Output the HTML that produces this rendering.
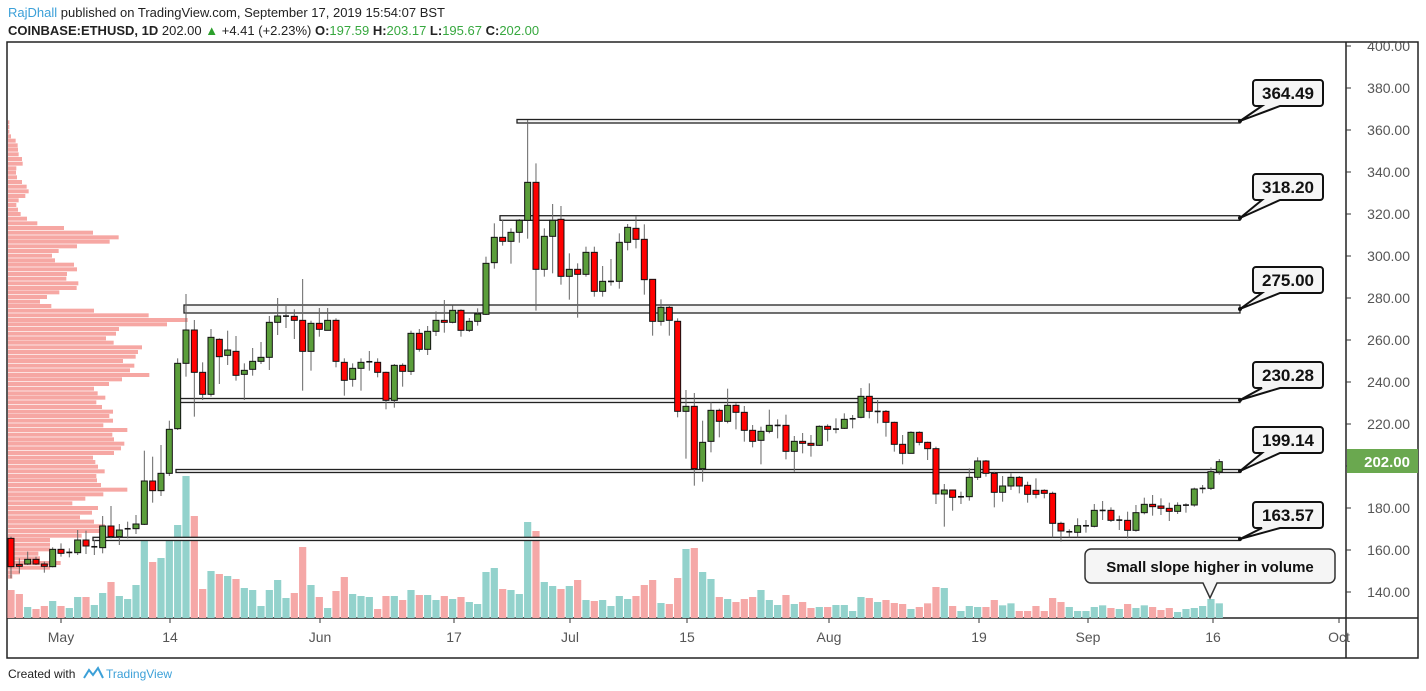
<!DOCTYPE html>
<html><head><meta charset="utf-8"><style>
body{margin:0;width:1426px;height:691px;background:#fff;overflow:hidden;font-family:"Liberation Sans",sans-serif;}
svg{position:absolute;left:0;top:0}
</style></head><body>
<svg id="s" width="1426" height="691" xmlns="http://www.w3.org/2000/svg">
<text x="8" y="17" font-size="13" fill="#222"><tspan fill="#3ca0d8">RajDhall</tspan> published on TradingView.com, September 17, 2019 15:54:07 BST</text>
<text x="8" y="35" font-size="13" fill="#222"><tspan font-weight="bold">COINBASE:ETHUSD, 1D</tspan> 202.00 <tspan fill="#2ca02c">▲</tspan> +4.41 (+2.23%) <tspan font-weight="bold">O:</tspan><tspan fill="#37a83f">197.59</tspan> <tspan font-weight="bold">H:</tspan><tspan fill="#37a83f">203.17</tspan> <tspan font-weight="bold">L:</tspan><tspan fill="#37a83f">195.67</tspan> <tspan font-weight="bold">C:</tspan><tspan fill="#37a83f">202.00</tspan></text>
<rect x="7" y="42" width="1411" height="616" fill="none" stroke="#222" stroke-width="1.5"/>
<line x1="1346" y1="42" x2="1346" y2="658" stroke="#222" stroke-width="1.5"/>
<line x1="7" y1="618" x2="1418" y2="618" stroke="#222" stroke-width="1.5"/>
<g id="g"></g>
<text x="8" y="678" font-size="12" fill="#222">Created with</text>
<path d="M84 678 l5 -8 l4 5 l5 -7 l5 10" fill="none" stroke="#3ca0d8" stroke-width="2"/>
<text x="106" y="678" font-size="12" fill="#3ca0d8">TradingView</text>
</svg>
<script>
var g=document.getElementById('g');var h='';
function X(n){return 61+8.333*(n-7);}
// volume profile
var vp=[[37,28],[51,28],[65,28],[79,33],[92,47],[106,53],[119,54],[133,56],[147,66],[161,68],[175,49],[188,48],[202,51],[216,66],[230,80],[244,86],[258,76],[271,56],[285,49],[299,54],[312,62],[326,81],[340,112],[354,192],[368,279],[382,356],[395,329],[409,231],[423,176],[437,156],[451,165],[464,222],[478,231],[492,201],[506,199],[520,235],[534,230],[547,178],[561,141],[575,120],[588,154],[602,282],[616,446],[630,563],[643,501],[657,357],[671,348],[685,318],[698,341],[712,426],[726,414],[740,407],[753,369],[767,403],[781,390],[795,448],[808,366],[822,327],[836,282],[850,293],[863,316],[877,289],[891,306],[905,339],[918,328],[932,339],[946,310],[960,382],[974,337],[988,342],[1001,373],[1015,363],[1029,342],[1043,279],[1056,286],[1070,294],[1084,314],[1098,289],[1111,291],[1125,303],[1139,382],[1153,310],[1166,256],[1180,217],[1194,294],[1208,276],[1222,240],[1235,282],[1249,315],[1263,309],[1277,245],[1290,150],[1304,150],[1318,150],[1331,115],[1345,120],[1359,182],[1373,150],[1387,60],[1400,37]];
vp.forEach(function(r){var y=110+r[0]/3;h+='<rect x="8" y="'+(y-2)+'" width="'+((r[1]-24)/3)+'" height="4" fill="#f6a7a3"/>';});
// candles
var A=[[1285,1370,1280,1405],[1363,1369,1345,1390],[1362,1348,1325,1365],[1348,1362,1340,1365],[1362,1369,1355,1388],[1370,1318,1312,1372],[1318,1330,1300,1340],[1329,1327,1315,1342],[1328,1290,1260,1335],[1290,1308,1262,1332],[1310,1310,1290,1335],[1313,1248,1218,1330],[1248,1280,1188,1285],[1280,1260,1242,1305],[1256,1256,1235,1285],[1256,1242,1215,1272],[1243,1113,1022,1245],[1113,1142,1040,1178],[1142,1090,1005,1158],[1090,958,932,1098],[956,760,745,960],[760,660,552,800],[660,787,630,920],[787,853,757,870],[853,682,657,860],[688,740,685,822],[736,720,662,765],[724,796,678,812],[793,781,760,870],[778,754,714,797],[754,742,696,762],[742,637,618,780],[637,618,564,675],[618,618,588,654],[619,631,598,687],[631,724,507,842],[724,640,632,782],[640,658,594,680],[661,631,594,661],[631,754,625,772],[757,811,745,857],[808,775,760,830],[775,757,745,842],[755,755,723,782],[757,787,745,802],[787,871,785,898],[871,766,762,893],[766,784,760,830],[784,670,662,795],[670,718,657,725],[718,664,648,735],[664,631,604,678],[631,637,570,668],[637,601,587,640],[601,661,598,680],[661,634,624,666],[634,612,595,647],
[613,460,440,615],[458,382,340,476],[382,394,330,407],[394,367,355,461],[367,331,327,398],[331,217,30,386],[217,478,160,602],[478,379,355,500],[379,331,282,490],[328,499,288,524],[499,478,430,569],[478,493,460,623],[493,427,410,500],[427,544,410,560],[544,514,468,560],[514,514,447,527],[514,397,370,536],[397,352,342,421],[355,388,318,415],[388,509,343,554],[508,634,508,677],[634,592,568,647],[592,631,588,677],[634,904,625,922],[904,889,840,1046],[889,1076,849,1127],[1076,997,932,1115],[994,901,877,1027],[901,934,896,982],[934,886,836,940],[886,907,880,958],[907,961,888,995],[961,994,945,1012],[991,964,950,1063],[964,946,899,970],[946,946,928,985],[946,1024,914,1048],[1024,994,978,1085],[994,1000,969,1030],[1000,1006,975,1040],[1006,949,946,1008],[949,958,943,994],[957,957,925,970],[955,928,910,957],[928,926,915,955],[922,859,834,925],[859,904,820,925],[904,904,870,940],[904,937,900,980],[937,1003,935,1025],[1003,1030,975,1063],[1030,967,964,1030],[967,997,964,1006]];
var B=[[277,296,275,330],[296,432,290,462],[432,420,402,530],[420,442,420,482],[440,440,425,462],[440,382,355,452],[382,333,322,390],[333,370,330,380],[370,427,365,472],[427,408,378,455],[408,382,370,420],[382,408,378,430],[406,433,395,458],[421,433,385,445],[421,430,418,445],[430,520,425,562],[520,543,515,575],[545,545,538,562],[547,527,505,562],[527,527,510,548],[529,481,462,532],[481,481,453,510],[481,511,472,516],[510,510,497,540],[511,541,485,565],[541,488,465,545],[488,463,443,493],[463,470,435,497],[468,475,445,495],[475,484,458,513],[484,466,457,492],[465,465,460,488],[465,417,413,470],[415,415,405,430],[415,365,352,420],[366,335,327,374]];
var VA=[1440,1452,1491,1497,1488,1473,1488,1494,1461,1461,1485,1449,1416,1458,1467,1425,1287,1356,1344,1293,1245,1098,1218,1437,1383,1392,1398,1407,1434,1440,1488,1440,1410,1464,1449,1311,1425,1461,1494,1443,1401,1452,1458,1461,1497,1458,1458,1470,1440,1455,1455,1470,1458,1467,1461,1476,1482,1386,1374,1437,1440,1452,1236,1263,1416,1428,1437,1428,1410,1470,1473,1470,1488,1458,1467,1458,1425,1410,1479,1482,1404,1317,1314,1386,1407,1461,1467,1476,1467,1461,1440,1470,1485,1455,1482,1476,1494,1491,1491,1485,1485,1503,1461,1464,1476,1470,1479,1482,1497,1491];
var VB=[760,711,714,768,783,768,771,771,750,766,760,783,783,768,783,744,756,771,783,783,771,766,774,777,762,774,766,771,780,774,786,777,774,768,747,760];
var C=[];A.forEach(function(c){C.push(c.map(function(v){return 110+v/3;}));});
B.forEach(function(c){C.push(c.map(function(v){return 350+v/3;}));});
var V=VA.map(function(v){return 110+v/3;}).concat(VB.map(function(v){return 350+v/3;}));
var vol='',cs='';
C.forEach(function(c,i){var n=i+1,x=X(n),up=c[1]<=c[0];
 var vy=V[i];vol+='<rect x="'+(x-3.6)+'" y="'+vy+'" width="7.2" height="'+(618-vy)+'" fill="'+(up?'#93d2cc':'#f5a8a7')+'"/>';
 cs+='<line x1="'+x+'" y1="'+c[2]+'" x2="'+x+'" y2="'+c[3]+'" stroke="#666" stroke-width="1"/>';
 var t=Math.min(c[0],c[1]),hh=Math.abs(c[0]-c[1]);
 if(hh<1.5){cs+='<rect x="'+(x-3)+'" y="'+(t-0.7)+'" width="6" height="1.6" fill="#111"/>';}
 else cs+='<rect x="'+(x-3)+'" y="'+t+'" width="6" height="'+hh+'" fill="'+(up?'#5b9e3b':'#ff0000')+'" stroke="#111" stroke-width="1"/>';
});
h+=vol;
// zones
[[517,119.5,123],[500,215.7,220.3],[184,305,313],[176,398.5,402.5],[176,469.5,472.5],[93,537.3,540.5]].forEach(function(z){
 h+='<rect x="'+z[0]+'" y="'+z[1]+'" width="'+(1240-z[0])+'" height="'+(z[2]-z[1])+'" fill="#f5f5f5" stroke="#222" stroke-width="1.3"/>';});
h+=cs;
// callouts
[['364.49',121,80],['318.20',218,174],['275.00',309,267],['230.28',400,362],['199.14',471,427],['163.57',539,502]].forEach(function(c){
 var by=c[2],bb=by+26;
 h+='<path d="M1256 '+by+' h64 a3 3 0 0 1 3 3 v20 a3 3 0 0 1 -3 3 h-40 L1240 '+c[1]+' L1262 '+bb+' h-6 a3 3 0 0 1 -3 -3 v-20 a3 3 0 0 1 3 -3z" fill="#f5f5f5" stroke="#111" stroke-width="2"/>';
 h+='<circle cx="1240" cy="'+c[1]+'" r="2" fill="#111"/>';
 h+='<text x="1288" y="'+(by+19)+'" font-size="17" font-weight="bold" text-anchor="middle" fill="#111">'+c[0]+'</text>';});
h+='<path d="M1091 549 h238 a6 6 0 0 1 6 6 v22 a6 6 0 0 1 -6 6 h-112 L1210 598 L1203 583 h-112 a6 6 0 0 1 -6 -6 v-22 a6 6 0 0 1 6 -6z" fill="#f5f5f5" stroke="#333" stroke-width="1.5"/>';
h+='<text x="1210" y="572" font-size="15" font-weight="bold" text-anchor="middle" fill="#111">Small slope higher in volume</text>';
// price axis
for(var p=140;p<=400;p+=20){var y=46+(400-p)*2.1;h+='<line x1="1346" y1="'+y+'" x2="1351" y2="'+y+'" stroke="#333"/>';
 h+='<text x="1410" y="'+(y+5)+'" font-size="14" text-anchor="end" fill="#555">'+p.toFixed(2)+'</text>';}
h+='<rect x="1347" y="449" width="71" height="24" fill="#6aa84f"/><text x="1410" y="467" font-size="15" font-weight="bold" text-anchor="end" fill="#fff">202.00</text>';
// time axis
[['May',61],['14',170],['Jun',320],['17',454],['Jul',570],['15',687],['Aug',829],['19',979],['Sep',1088],['16',1213],['Oct',1339]].forEach(function(t){
 h+='<line x1="'+t[1]+'" y1="618" x2="'+t[1]+'" y2="623" stroke="#333"/><text x="'+t[1]+'" y="642" font-size="14" text-anchor="middle" fill="#555">'+t[0]+'</text>';});
g.innerHTML=h;
</script>
</body></html>
